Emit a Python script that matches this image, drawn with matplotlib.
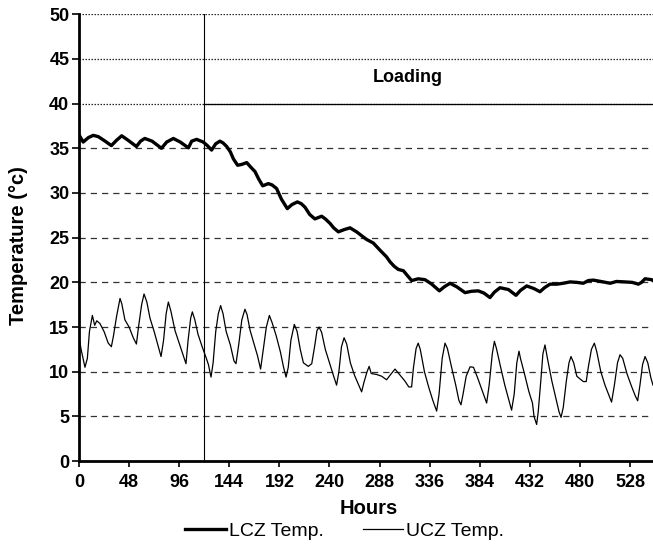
import matplotlib
matplotlib.use("Agg")
import matplotlib.pyplot as plt
import numpy as np

plt.rcParams['font.family'] = ['Liberation Sans', 'DejaVu Sans']

# Lower conditioning zone (thick line)
lcz_hours = [0, 4, 9, 13.7, 18.5, 25, 31, 36, 40.9, 47, 55, 59, 63, 70, 79, 84, 90.4,
             97, 104.8, 108, 112.7, 119, 123, 127, 131, 135, 138, 141.5, 145, 148,
             152, 156, 160.7, 164.5, 168.6, 172, 176, 181.4, 185, 189.3, 194, 199.6,
             204, 209.2, 213, 216.6, 221, 226, 232.5, 236, 240.5, 244, 248.5, 254,
             259.7, 266, 271, 275.6, 282, 288.4, 294.7, 298, 302, 305.9, 310.8, 318.7,
             325, 331.5, 338, 345.3, 350, 355.5, 362, 369.9, 376, 382.6, 388, 393.8,
             398, 403.4, 411.4, 418.7, 423, 429, 436, 441.7, 446, 451.3, 458, 464,
             470.5, 477, 483.2, 488, 492.8, 500, 509, 515, 523, 530, 536, 539, 542.4,
             548.7, 550]
lcz_temp = [36.5, 35.7, 36.2, 36.45, 36.3, 35.8, 35.3, 35.9, 36.4, 35.9, 35.2, 35.8, 36.1,
            35.8, 35.0, 35.7, 36.1, 35.7, 35.05, 35.8, 36.0, 35.7, 35.3, 34.8, 35.5, 35.8,
            35.6, 35.2, 34.6, 33.8, 33.1, 33.2, 33.4, 32.9, 32.4, 31.6, 30.8, 31.05, 30.9,
            30.5, 29.3, 28.25, 28.7, 29.0, 28.8, 28.4, 27.6, 27.1, 27.4, 27.1, 26.6, 26.1,
            25.65, 25.9, 26.1, 25.65, 25.2, 24.8, 24.4, 23.6, 22.85, 22.3, 21.8, 21.45,
            21.3, 20.2, 20.4, 20.3, 19.8, 19.05, 19.5, 19.9, 19.5, 18.85, 19.0, 19.05,
            18.8, 18.3, 18.9, 19.4, 19.2, 18.55, 19.1, 19.6, 19.3, 18.95, 19.4, 19.8,
            19.8, 19.9, 20.05, 20.0, 19.9, 20.2, 20.25, 20.1, 19.9, 20.1, 20.05, 20.0,
            19.8, 20.0, 20.4, 20.3, 20.2]

# Upper conditioning zone (thin line)
ucz_hours = [0, 2, 5.7, 8, 10, 12.8, 15, 17, 20, 24, 28, 31,
             33, 36, 39.3, 41, 44, 48, 52, 55,
             57, 60, 62.3, 65, 68, 72, 76, 78.6,
             81, 83.5, 85.6, 88, 92, 96, 100, 102.5,
             104.5, 107, 108.6, 111, 114, 118, 122, 124, 126.5,
             128.5, 131, 133.5, 135.7, 138, 141, 145, 148.5, 150.4,
             153, 156, 159, 161, 164, 168, 171, 174,
             176.5, 179.5, 182.4, 185, 189, 193, 196, 198.4,
             200.5, 203, 206.3, 209, 212, 215, 219.7, 223, 226, 228, 230, 232.5,
             236, 240, 244, 246.8,
             249, 251.5, 254, 256.5, 260, 264, 268, 270.8,
             273, 276, 278, 280, 285, 290, 294.7, 298, 302.8, 307, 312, 316, 318.7,
             320.5, 323, 325, 327, 331, 335, 339, 342.7,
             345, 348, 350.7, 353, 357, 361, 364, 366,
             368, 371, 374.7, 378, 382, 386, 390.6,
             393, 396, 398, 400, 404, 408, 412, 414.5,
             417, 419.5, 421.6, 423, 427, 431, 434.5, 436, 438.5,
             440, 442.5, 444.5, 446.5, 449, 453, 457, 460, 461.9,
             464, 467, 469.5, 471.4, 474, 477, 480, 483.3, 486, 488, 491, 493.8,
             496, 500, 504, 508, 510.3,
             513, 516, 518.4, 521, 525, 529, 533, 535.3,
             537.5, 540, 542.4, 545, 548, 550]
ucz_temp = [13.9, 12.5, 10.5, 11.5, 14.5, 16.3, 15.2, 15.7, 15.4, 14.5, 13.2, 12.8,
            14.0, 16.2, 18.2, 17.6, 15.8, 15.0, 13.8, 13.1,
            15.0, 17.5, 18.7, 17.8, 16.0, 14.5, 12.8, 11.7,
            13.5, 16.5, 17.8, 16.8, 14.6, 13.2, 11.8, 10.9,
            13.5, 16.0, 16.7, 15.8, 14.2, 12.8, 11.5, 10.8, 9.4,
            11.0, 14.5, 16.5, 17.4, 16.5, 14.5, 13.0, 11.2, 10.9,
            13.0, 15.8, 17.0, 16.4, 14.6, 13.0, 11.8, 10.3,
            12.4, 15.0, 16.3, 15.5, 14.0, 12.2, 10.5, 9.4,
            10.5, 13.5, 15.3, 14.5, 12.5, 11.0, 10.6, 10.9, 13.0, 14.6, 15.0, 14.4,
            12.5, 11.0, 9.5, 8.5,
            10.0, 12.8, 13.8, 13.1, 11.0, 9.6, 8.5, 7.75,
            8.8, 10.0, 10.6, 9.8, 9.7, 9.5, 9.1, 9.6, 10.3, 9.7, 9.0, 8.3, 8.3,
            10.5, 12.6, 13.2, 12.5, 10.0, 8.3, 6.8, 5.6,
            7.5, 11.5, 13.2, 12.6, 10.5, 8.5, 6.8, 6.3,
            7.5, 9.5, 10.55, 10.5, 9.3, 8.0, 6.5,
            8.5, 12.0, 13.4, 12.6, 10.5, 8.5, 6.8, 5.7,
            7.5, 11.0, 12.3, 11.5, 9.7, 7.8, 6.5, 5.0, 4.1,
            5.5, 9.0, 12.0, 13.0, 11.4, 9.0, 7.0, 5.5, 4.9,
            6.0, 9.0, 11.0, 11.7, 11.0, 9.5, 9.2, 8.9, 8.9, 10.5, 12.5, 13.2,
            12.3, 10.0, 8.5, 7.3, 6.6,
            8.5, 11.0, 11.9, 11.5, 9.8, 8.5, 7.3, 6.75,
            8.5, 10.8, 11.7, 11.0, 9.3, 8.5]

x_ticks = np.arange(0, 529, 48)
y_ticks = np.arange(0, 51, 5)
loading_start = 120
loading_level = 40

fig = plt.figure(figsize=(6.53, 5.47), dpi=100)
ax = fig.add_axes([0.121, 0.157, 0.879, 0.817])

# horizontal grid: dotted above 40, dashed below
for yv in y_ticks[1:]:
    if yv >= 40:
        ax.axhline(yv, color="#222222", lw=0.9, ls=(0, (1.2, 1.2)), zorder=1)
    else:
        ax.axhline(yv, color="#333333", lw=0.9, ls=(0, (5, 4)), zorder=1)

ax.plot([loading_start, loading_start], [0, 50], color="black", lw=0.8, zorder=2)
ax.plot([loading_start, 550], [loading_level, loading_level], color="black", lw=0.9, zorder=2)
ax.text(315, 42.9, "Loading", fontsize=13, fontweight="bold", ha="center", va="center")

ax.plot(lcz_hours, lcz_temp, color="black", lw=2.4, label="LCZ Temp.", zorder=3)
ax.plot(ucz_hours, ucz_temp, color="black", lw=0.9, label="UCZ Temp.", zorder=3)

ax.set_xlim(0, 550)
ax.set_ylim(0, 50)
ax.set_xticks(x_ticks)
ax.set_yticks(y_ticks)
for side in ("top", "right"):
    ax.spines[side].set_visible(False)
for side in ("left", "bottom"):
    ax.spines[side].set_linewidth(2)
ax.tick_params(axis="x", direction="out", length=4, width=1.2, labelsize=13, pad=5)
ax.tick_params(axis="y", direction="out", length=5, width=1.2, labelsize=13, pad=2)
for lbl in ax.get_xticklabels() + ax.get_yticklabels():
    lbl.set_fontweight("bold")

ax.set_xlabel("Hours", fontsize=14.5, fontweight="bold")
ax.xaxis.set_label_coords(0.504, -0.084)
ax.set_ylabel("Temperature (°c)", fontsize=14.5, fontweight="bold")
ax.yaxis.set_label_coords(-0.089, 0.483)

fig.legend(loc="center", bbox_to_anchor=(0.528, 0.029), ncol=2, frameon=False,
           fontsize=14, handlelength=2.1, handletextpad=0.15, columnspacing=2.0,
           borderpad=0)

fig.savefig("out.png", dpi=100)
